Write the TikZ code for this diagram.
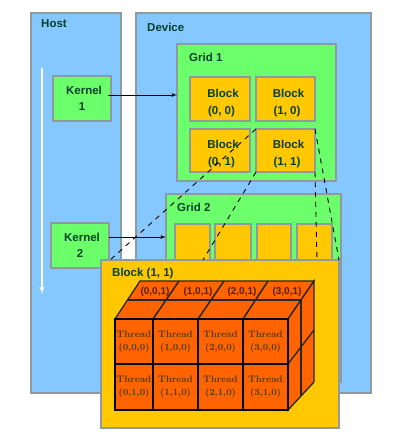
\documentclass[tikz,border=0pt]{standalone}
\usepackage{fontspec}
\setsansfont{Liberation Sans}
\usetikzlibrary{arrows, positioning}

\definecolor{panelblue}{HTML}{85C8FF}
\definecolor{panelgrey}{HTML}{8F9A9F}
\definecolor{gridgreen}{HTML}{6CFF6C}
\definecolor{blockgold}{HTML}{FFC800}
\definecolor{threadred}{HTML}{FF6400}
\definecolor{labelgreen}{HTML}{06402A}
\definecolor{threadtext}{HTML}{4A3A10}
\definecolor{backtext}{HTML}{5A1E08}

\begin{document}
\begin{tikzpicture}[x=1pt, y=-1pt, >=latex']
        % Define styles
        \tikzset{box/.style={draw=panelgrey, line width=1.8pt, anchor=north west, inner sep=0pt, outer sep=0pt}}
        \tikzset{panel/.style={box, fill=panelblue}}
        \tikzset{gridbox/.style={box, fill=gridgreen}}
        \tikzset{blockbox/.style={box, fill=blockgold, align=center, text height=33pt, font=\sffamily\bfseries\fontsize{11.5}{17}\selectfont, text=labelgreen}}
        \tikzset{kernelbox/.style={gridbox, align=center, font=\sffamily\bfseries\fontsize{11.5}{16}\selectfont, text=labelgreen}}
        \tikzset{title/.style={anchor=west, inner sep=0pt, font=\sffamily\bfseries\fontsize{11.5}{13}\selectfont, text=labelgreen}}
        \tikzset{thread/.style={draw=black, line width=1.3pt, fill=threadred, anchor=north west, inner sep=0pt, outer sep=0pt, align=center, font=\rmfamily\bfseries\fontsize{9.5}{13}\selectfont, text=threadtext}}
        \tikzset{side/.style={draw=black!85, line width=1.3pt, fill=threadred}}
        \tikzset{dashline/.style={draw=black, line width=0.9pt, dash pattern=on 5pt off 5pt}}
        \useasboundingbox (0,0) rectangle (404,445);

        % Panels
        \node [panel, minimum width=90pt, minimum height=380pt] (host) at (31,13) {};
        \node [panel, minimum width=235pt, minimum height=380pt] (device) at (136,13) {};
        \node [title] (hostlabel) at (41,24) {Host};
        \node [title] (devicelabel) at (147,27) {Device};
        \coordinate (flowtop) at (42,68);
        \coordinate (flowend) at (42,294);
        \draw [->, white, line width=1.5pt] (flowtop) -- (flowend);

        % Kernels
        \node [kernelbox, minimum width=58pt, minimum height=45pt] (kernel1) at (53,76) {\hspace{4pt}Kernel\\1};
        \node [kernelbox, minimum width=58pt, minimum height=45pt] (kernel2) at (51,223) {\hspace{4pt}Kernel\\2};

        % Grid 1
        \node [gridbox, minimum width=159pt, minimum height=137pt] (grid1) at (177,44) {};
        \node [title] (grid1label) at (189,57) {Grid 1};
        \node [blockbox, minimum width=60pt, minimum height=44pt] (block00) at (190,77) {\hspace{6pt}Block\\\hspace{3pt}(0, 0)};
        \node [blockbox, minimum width=59pt, minimum height=44pt] (block10) at (256,77) {\hspace{6pt}Block\\\hspace{3pt}(1, 0)};
        \node [blockbox, minimum width=60pt, minimum height=43pt] (block01) at (190,129) {\hspace{6pt}Block\\\hspace{3pt}(0, 1)};
        \node [blockbox, minimum width=59pt, minimum height=43pt] (block11) at (256,129) {\hspace{6pt}Block\\\hspace{3pt}(1, 1)};

        % Grid 2
        \node [gridbox, minimum width=175pt, minimum height=188pt] (grid2) at (166,194) {};
        \node [title] (grid2label) at (177,207) {Grid 2};
        \node [blockbox, minimum width=35pt, minimum height=60pt] (cell0) at (175,224) {};
        \node [blockbox, minimum width=36pt, minimum height=60pt] (cell1) at (215,224) {};
        \node [blockbox, minimum width=34pt, minimum height=60pt] (cell2) at (257,224) {};
        \node [blockbox, minimum width=35pt, minimum height=60pt] (cell3) at (297,224) {};

        % Edges
        \draw [->, line width=0.9pt, shorten <=-3pt] (kernel1.east |- 0,95) -- (grid1.west |- 0,95);
        \draw [->, line width=0.9pt] (kernel2.east |- 0,237) -- (grid2.west |- 0,237);

        % Expanded block
        \node [box, fill=blockgold, minimum width=238pt, minimum height=168pt] (bigblock) at (101,260) {};
        \node [title] (biglabel) at (112,274) {Block (1, 1)};
        \draw [dashline] (block11.north west) -- (bigblock.north west -| 110,0);
        \draw [dashline] (block11.south west) -- (bigblock.north -| 203,0);
        \draw [dashline] (block11.south east) -- (bigblock.north -| 317,0);
        \draw [dashline] (block11.north east) -- (bigblock.north east);

        % Thread cube
        \draw [side] (115,319) -- (140,281) -- (314,281) -- (288,319) -- cycle;
        \draw [side] (288,319) -- (314,281) -- (314,382) -- (288,410) -- cycle;
        \foreach \xa/\xb in {153/179, 198/224, 243/268} {
            \draw [side, fill=none, line width=1.5pt] (\xa,319) -- (\xb,281);
        }
        \draw [side, fill=none] (127,300) -- (301,300);
        \draw [side, fill=none] (301,300) -- (301,396);
        \draw [side, fill=none] (288,364) -- (314,330);

        \node [thread, minimum width=38pt, minimum height=45pt] (t00) at (115,319) {Thread\\(0,0,0)};
        \node [thread, minimum width=45pt, minimum height=45pt] (t10) at (153,319) {Thread\\(1,0,0)};
        \node [thread, minimum width=45pt, minimum height=45pt] (t20) at (198,319) {Thread\\(2,0,0)};
        \node [thread, minimum width=45pt, minimum height=45pt] (t30) at (243,319) {Thread\\(3,0,0)};
        \node [thread, minimum width=38pt, minimum height=46pt] (t01) at (115,364) {Thread\\(0,1,0)};
        \node [thread, minimum width=45pt, minimum height=46pt] (t11) at (153,364) {Thread\\(1,1,0)};
        \node [thread, minimum width=45pt, minimum height=46pt] (t21) at (198,364) {Thread\\(2,1,0)};
        \node [thread, minimum width=45pt, minimum height=46pt] (t31) at (243,364) {Thread\\(3,1,0)};

        % Back row labels
        \foreach \nm/\xc in {0/155, 1/198, 2/242, 3/287} {
            \node [font=\sffamily\bfseries\fontsize{10}{12}\selectfont, text=backtext, inner sep=0pt] (back\nm) at (\xc,292) {(\nm,0,1)};
        }
    \end{tikzpicture}
\end{document}
